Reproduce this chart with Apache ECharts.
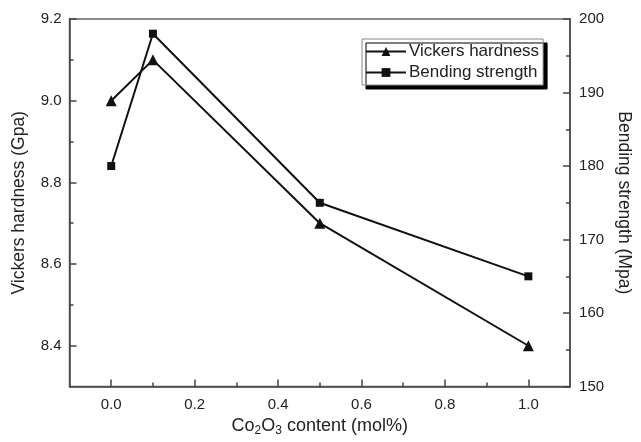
<!DOCTYPE html>
<html><head><meta charset="utf-8">
<script src="https://cdn.jsdelivr.net/npm/echarts@6/dist/echarts.min.js"></script>
<style>html,body{margin:0;padding:0;background:#fff}#c{width:641px;height:442px}</style>
</head><body><div id="c"></div>
<script>
const xValues = [0.0, 0.1, 0.5, 1.0];
const vickers = [9.0, 9.1, 8.7, 8.4];
const bending = [180, 198, 175, 165];
const xMajorTicks = [0.0, 0.2, 0.4, 0.6, 0.8, 1.0];
const xMinorTicks = [0.1, 0.3, 0.5, 0.7, 0.9];
const yLeftMajor = [8.4, 8.6, 8.8, 9.0, 9.2];
const yLeftMinor = [8.5, 8.7, 8.9, 9.1];

const FONT = 'Liberation Sans';
const AX = '#444';
const TXT = '#222';
const chart = echarts.init(document.getElementById('c'));
chart.setOption({
  animation: false,
  textStyle: {fontFamily: FONT},
  grid: {left: 69.5, right: 59, top: 19, bottom: 48, show: true, borderColor: '#666', borderWidth: 1.5, containLabel: false},
  legend: {
    orient: 'vertical', left: 362, top: 39,
    padding: [4, 4, 4, 3], itemGap: 4,
    itemWidth: 40, itemHeight: 11,
    backgroundColor: '#fff', borderColor: '#888', borderWidth: 1,
    shadowColor: '#000', shadowBlur: 0, shadowOffsetX: 4, shadowOffsetY: 4,
    textStyle: {fontSize: 17, color: TXT, fontFamily: FONT, padding: [0,0,0,-2]},
    data: ['Vickers hardness', 'Bending strength']
  },
  xAxis: [{
    type: 'value', min: -0.1, max: 1.1,
    axisLine: {show: true, onZero: false, lineStyle: {color: AX, width: 1.5}},
    axisTick: {show: true, inside: true, length: 7, customValues: xMajorTicks, lineStyle: {color: AX, width: 1.5}},
    axisLabel: {customValues: xMajorTicks, formatter: v => v.toFixed(1), fontSize: 15, color: TXT, margin: 11},
    splitLine: {show: false},
    name: '{n|Co}{s|2}{n|O}{s|3}{n| content (mol%)}', nameLocation: 'middle', nameGap: 26,
    nameTextStyle: {rich: {n: {fontSize: 18, color: TXT, fontFamily: FONT}, s: {fontSize: 12, color: TXT, fontFamily: FONT, verticalAlign: 'bottom', padding: [9,0,0,0]}}}
  }, {
    type: 'value', min: -0.1, max: 1.1, position: 'bottom',
    axisLine: {show: false, onZero: false},
    axisTick: {show: true, inside: true, length: 4, customValues: xMinorTicks, lineStyle: {color: AX, width: 1.5}},
    axisLabel: {show: false}, splitLine: {show: false}
  }],
  yAxis: [{
    type: 'value', min: 8.3, max: 9.2, position: 'left',
    axisLine: {show: true, onZero: false, lineStyle: {color: AX, width: 1.5}},
    axisTick: {show: true, inside: true, length: 7, customValues: yLeftMajor, lineStyle: {color: AX, width: 1.5}},
    axisLabel: {customValues: yLeftMajor, formatter: v => v.toFixed(1), fontSize: 15, color: TXT, margin: 8},
    splitLine: {show: false},
    name: 'Vickers hardness (Gpa)', nameLocation: 'middle', nameGap: 41, nameRotate: 90,
    nameTextStyle: {fontSize: 17.5, color: TXT}
  }, {
    type: 'value', min: 150, max: 200, interval: 10, position: 'right',
    axisLine: {show: true, onZero: false, lineStyle: {color: AX, width: 1.5}},
    axisTick: {show: true, inside: true, length: 7, lineStyle: {color: AX, width: 1.5}},
    minorTick: {show: true, splitNumber: 2, length: 4, lineStyle: {color: AX, width: 1.5}},
    axisLabel: {fontSize: 15, color: TXT, margin: 9},
    splitLine: {show: false},
    name: 'Bending strength (Mpa)', nameLocation: 'middle', nameGap: 42, nameRotate: -90,
    nameTextStyle: {fontSize: 17.5, color: TXT}
  }, {
    type: 'value', min: 8.3, max: 9.2, position: 'left',
    axisLine: {show: false, onZero: false},
    axisTick: {show: true, inside: true, length: 4, customValues: yLeftMinor, lineStyle: {color: AX, width: 1.5}},
    axisLabel: {show: false}, splitLine: {show: false}
  }],
  series: [{
    name: 'Vickers hardness', type: 'line', xAxisIndex: 0, yAxisIndex: 0,
    data: xValues.map((x, i) => [x, vickers[i]]),
    symbol: 'triangle', symbolSize: 11,
    lineStyle: {color: '#111', width: 2}, itemStyle: {color: '#111'}
  }, {
    name: 'Bending strength', type: 'line', xAxisIndex: 0, yAxisIndex: 1,
    data: xValues.map((x, i) => [x, bending[i]]),
    symbol: 'rect', symbolSize: 8,
    lineStyle: {color: '#111', width: 2}, itemStyle: {color: '#111'}
  }]
});
</script></body></html>
